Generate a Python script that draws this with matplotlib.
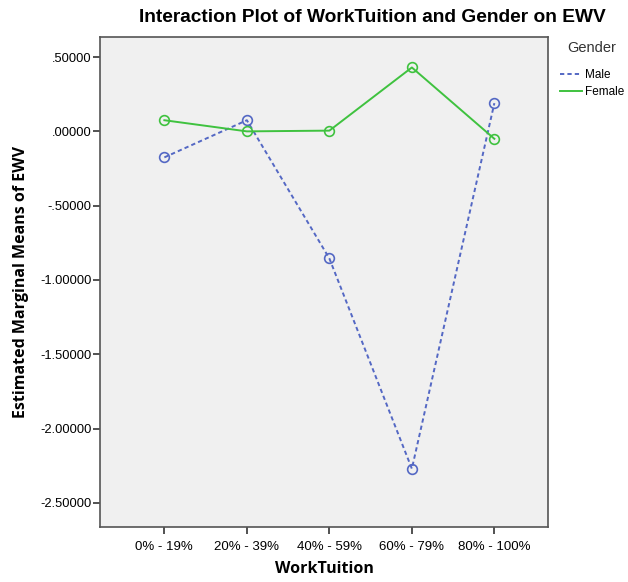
import matplotlib
matplotlib.use("Agg")
import matplotlib.pyplot as plt

# Estimated marginal means of EWV by WorkTuition and Gender
categories = ["0% - 19%", "20% - 39%", "40% - 59%", "60% - 79%", "80% - 100%"]
male = [-0.175, 0.075, -0.855, -2.27, 0.19]
female = [0.075, 0.0, 0.005, 0.43, -0.05]
yticks = [0.5, 0.0, -0.5, -1.0, -1.5, -2.0, -2.5]
ytick_labels = [".50000", ".00000", "-.50000", "-1.00000", "-1.50000", "-2.00000", "-2.50000"]

male_color = "#5468c4"
female_color = "#3fc23f"

fig = plt.figure(figsize=(6.28, 5.82), dpi=100)
ax = fig.add_axes([100 / 628, 55 / 582, 448 / 628, 490 / 582])
ax.set_facecolor("#f0f0f0")

x = list(range(len(categories)))
ax.plot(x, male, linestyle=(0, (2.2, 1.6)), color=male_color, linewidth=1.4,
        marker="o", markersize=7, markerfacecolor="none", markeredgewidth=1.2,
        label="Male")
ax.plot(x, female, linestyle="-", color=female_color, linewidth=1.4,
        marker="o", markersize=7, markerfacecolor="none", markeredgewidth=1.2,
        label="Female")

ax.set_xlim(-0.78, 4.65)
ax.set_ylim(-2.662, 0.635)
ax.set_xticks(x)
ax.set_xticklabels(categories, fontsize=9.5, family="Liberation Sans")
ax.set_yticks(yticks)
ax.set_yticklabels(ytick_labels, fontsize=9.3, family="Liberation Sans")
ax.tick_params(axis="both", length=5, width=1.2, color="#333333")
ax.tick_params(axis="x", pad=5)
ax.tick_params(axis="y", pad=1)

for sp in ax.spines.values():
    sp.set_color("#555555")
    sp.set_linewidth(1.2)

fig.text(372 / 628, 1 - 18 / 582, "Interaction Plot of WorkTuition and Gender on EWV",
         fontsize=13.8, fontweight="bold", family="Liberation Sans",
         ha="center", va="center")
ax.set_xlabel("WorkTuition", fontsize=11.5, fontweight="bold",
              family="Open Sans", labelpad=6)
ax.set_ylabel("Estimated Marginal Means of EWV", fontsize=11.5,
              fontweight="bold", family="Open Sans", labelpad=8)

leg = fig.legend(loc="upper left", bbox_to_anchor=(560 / 628, 1 - 41 / 582),
                 title="Gender", frameon=False,
                 prop={"family": "Liberation Sans", "size": 8.5},
                 handlelength=1.9, handletextpad=0.2, labelspacing=0.45,
                 borderaxespad=0, borderpad=0)
leg.get_title().set_fontsize(10.5)
leg.get_title().set_family("Liberation Sans")
leg.get_title().set_color("#333333")
leg._legend_box.sep = 10
for h in leg.legend_handles:
    h.set_marker("")

fig.savefig("out.png", dpi=100)
